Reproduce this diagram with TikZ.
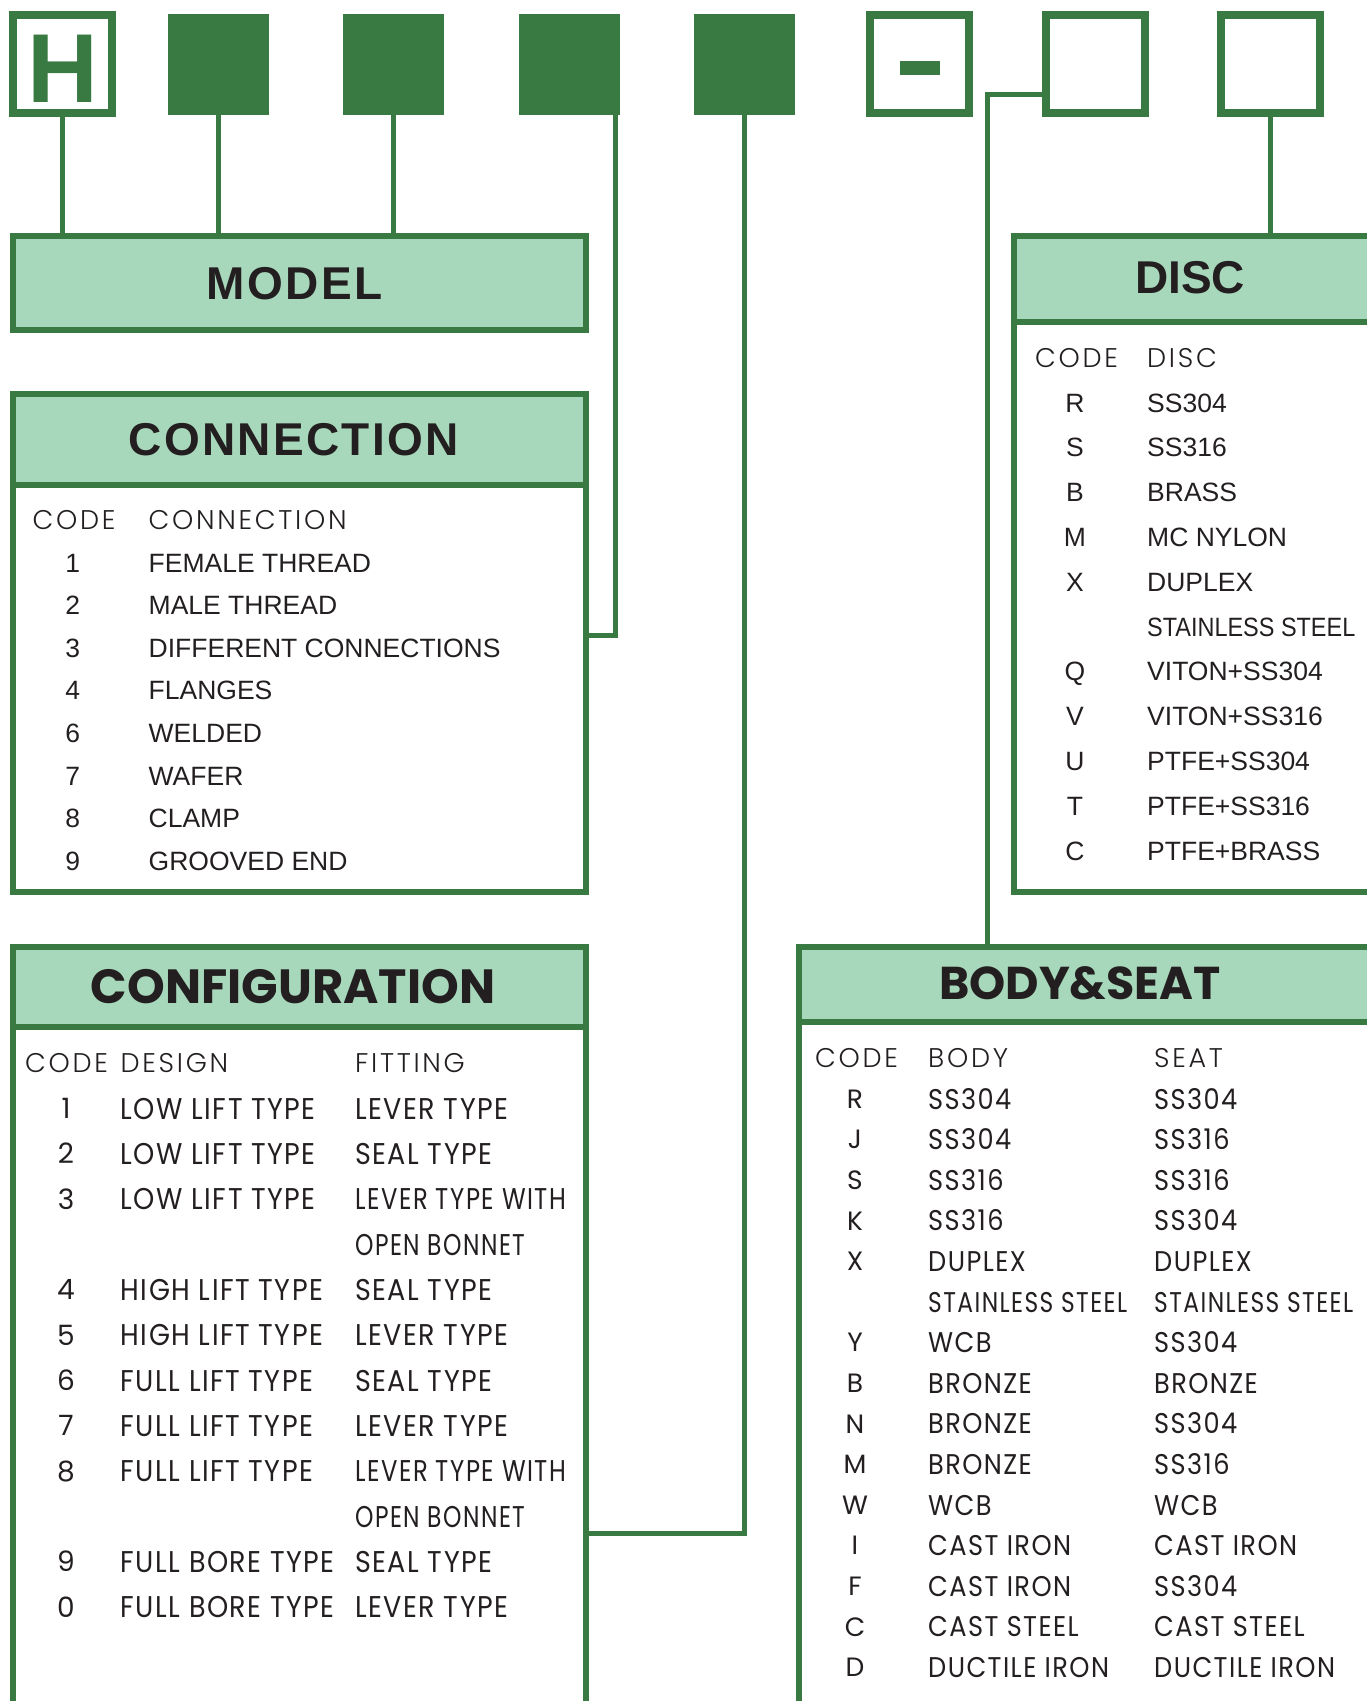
\documentclass[tikz,border=0pt]{standalone}
\usepackage{fontspec}
\setmainfont{Liberation Sans}
\newfontfamily\geo{Poppins}
\IfFontExistsTF{Poppins Light}{\newfontfamily\geohdr{Poppins Light}[LetterSpace=10]}{\newfontfamily\geohdr{Poppins}[LetterSpace=10]}
\newfontfamily\georow{Poppins}[FakeStretch=0.9, LetterSpace=5]
\newfontfamily\geonarrow{Poppins}[FakeStretch=0.78, LetterSpace=5]
\newfontfamily\geowith{Poppins}[FakeStretch=0.81, LetterSpace=5]
\newfontfamily\geostain{Poppins}[FakeStretch=0.82, LetterSpace=5]
\newfontfamily\titlesp{Liberation Sans}[LetterSpace=5]
\newfontfamily\arialcond{Liberation Sans}[FakeStretch=0.885]
\definecolor{vgreen}{RGB}{56,122,65}
\definecolor{vlight}{RGB}{168,216,187}
\definecolor{ink}{RGB}{35,31,32}
\tikzset{
  solidbox/.style={fill=vgreen, inner sep=0, minimum width=101pt, minimum height=101pt},
  hollowbox/.style={draw=vgreen, line width=8pt, fill=white, inner sep=0, minimum width=99pt, minimum height=98pt},
  wire/.style={draw=vgreen, line width=5pt},
  panelbody/.style={draw=vgreen, line width=6.5pt, fill=white, inner sep=0},
  panelhead/.style={draw=vgreen, line width=6.5pt, fill=vlight, inner sep=0},
  titleA/.style={font=\fontsize{46}{46}\selectfont\bfseries, text=ink, anchor=base, inner sep=0},
  titleAs/.style={font=\titlesp\fontsize{46}{46}\selectfont\bfseries, text=ink, anchor=base, inner sep=0},
  titleB/.style={font=\geo\fontsize{48}{48}\selectfont\bfseries, text=ink, anchor=base, inner sep=0},
  arow/.style={font=\fontsize{26.5}{30}\selectfont, text=ink, anchor=base west, inner sep=0, yshift=-9.5pt},
  arowc/.style={arow, anchor=base},
  hdr/.style={font=\geohdr\fontsize{27}{30}\selectfont, text=ink, anchor=base west, inner sep=0, yshift=-9.5pt},
  cfgrow/.style={font=\georow\fontsize{30}{32}\selectfont, text=ink, anchor=base west, inner sep=0, yshift=-10.5pt},
  cfgrowc/.style={font=\geo\fontsize{28}{30}\selectfont, text=ink, anchor=base, inner sep=0, yshift=-9.8pt},
  bsrow/.style={font=\georow\fontsize{28.5}{30}\selectfont, text=ink, anchor=base west, inner sep=0, yshift=-10pt},
  bsrowc/.style={font=\geo\fontsize{26.5}{30}\selectfont, text=ink, anchor=base, inner sep=0, yshift=-9.3pt},
}
\begin{document}
\begin{tikzpicture}[x=1pt,y=-1pt]
\useasboundingbox (0,0) rectangle (1367,1701);
\clip (0,0) rectangle (1367,1701);

% ---------- top code boxes ----------
\node[hollowbox] (hbox) at (62.5,64) {};
\node[font=\fontsize{98}{98}\selectfont\bfseries, text=vgreen, anchor=base, inner sep=0] (hletter) at (62.5,102) {H};
\node[solidbox] (b2) at (218.5,64.5) {};
\node[solidbox] (b3) at (393.5,64.5) {};
\node[solidbox] (b4) at (569.5,64.5) {};
\node[solidbox] (b5) at (744.5,64.5) {};
\node[hollowbox] (b6) at (919.5,64) {};
\node[fill=vgreen, inner sep=0, minimum width=40pt, minimum height=14pt] (dash) at (920,68) {};
\node[hollowbox] (b7) at (1095,64) {};
\node[hollowbox] (b8) at (1270,64) {};

% ---------- panels ----------
\node[panelhead, minimum width=573pt, minimum height=94pt] (model) at (299.5,283) {};
\node[titleAs] (modeltitle) at (294.5,299) {MODEL};

\node[panelbody, minimum width=573pt, minimum height=407pt] (connbody) at (299.5,688.5) {};
\node[panelhead, minimum width=573pt, minimum height=91pt] (connhead) at (299.5,439.5) {};
\node[titleAs] (conntitle) at (293.5,455) {CONNECTION};

\node[panelbody, minimum width=573pt, minimum height=753pt] (cfgbody) at (299.5,1403.5) {};
\node[panelhead, minimum width=573pt, minimum height=80pt] (cfghead) at (299.5,987) {};
\node[titleB] (cfgtitle) at (293,1003) {CONFIGURATION};

\node[panelbody, minimum width=406pt, minimum height=570pt] (discbody) at (1217,607) {};
\node[panelhead, minimum width=406pt, minimum height=86pt] (dischead) at (1217,279) {};
\node[titleA] (disctitle) at (1190,293.5) {DISC};

\node[panelbody, minimum width=621pt, minimum height=758pt] (bodybody) at (1109.5,1401) {};
\node[panelhead, minimum width=621pt, minimum height=75pt] (bodyhead) at (1109.5,984.5) {};
\node[titleB, font=\geo\fontsize{46}{46}\selectfont\bfseries] (bodytitle) at (1080,999.5) {BODY\&SEAT};

% ---------- connectors ----------
\draw[wire] (hbox.south) -- (hbox.south |- model.north);
\draw[wire] (b2.south) -- (b2.south |- model.north);
\draw[wire] (b3.south) -- (b3.south |- model.north);
\coordinate (c4) at (615,635);
\draw[wire] (b4.south -| c4) -- (c4) -- (c4 -| connbody.east);
\coordinate (c5) at (744.5,1533);
\draw[wire] (b5.south) -- (c5) -- (c5 -| cfgbody.east);
\coordinate (c7) at (987,94);
\draw[wire] (b7.west |- c7) -- (c7) -- (c7 |- bodyhead.north);
\draw[wire] (b8.south) -- (b8.south |- dischead.north);

% ---------- CONNECTION table ----------
\node[hdr] (connh1) at (32.5,520) {CODE};
\node[hdr] (connh2) at (148.5,520) {CONNECTION};
\foreach \c/\t [count=\i from 0] in {1/FEMALE THREAD, 2/MALE THREAD, 3/DIFFERENT CONNECTIONS, 4/FLANGES, 6/WELDED, 7/WAFER, 8/CLAMP, 9/GROOVED END}{
  \node[arowc] (conn-c\i) at (72.7,{562.5+42.6*\i}) {\c};
  \node[arow] (conn-t\i) at (148.5,{562.5+42.6*\i}) {\t};
}

% ---------- DISC table ----------
\node[hdr] (disch1) at (1035,358) {CODE};
\node[hdr] (disch2) at (1147,358) {DISC};
\foreach \c/\t [count=\i from 0] in {R/SS304, S/SS316, B/BRASS, M/MC NYLON, X/DUPLEX, {}/{\arialcond STAINLESS STEEL}, Q/VITON+SS304, V/VITON+SS316, U/PTFE+SS304, T/PTFE+SS316, C/PTFE+BRASS}{
  \node[arowc] (disc-c\i) at (1075,{402.5+44.8*\i}) {\c};
  \node[arow] (disc-t\i) at (1147,{402.5+44.8*\i}) {\t};
}

% ---------- CONFIGURATION table ----------
\node[hdr] (cfgh1) at (25,1063) {CODE};
\node[hdr] (cfgh2) at (120.5,1063) {DESIGN};
\node[hdr] (cfgh3) at (355,1063) {FITTING};
\foreach \c/\d/\f [count=\i from 0] in {1/LOW LIFT TYPE/LEVER TYPE, 2/LOW LIFT TYPE/SEAL TYPE, 3/LOW LIFT TYPE/{\geowith LEVER TYPE WITH}, {}/{}/{\geonarrow OPEN BONNET}, 4/HIGH LIFT TYPE/SEAL TYPE, 5/HIGH LIFT TYPE/LEVER TYPE, 6/FULL LIFT TYPE/SEAL TYPE, 7/FULL LIFT TYPE/LEVER TYPE, 8/FULL LIFT TYPE/{\geowith LEVER TYPE WITH}, {}/{}/{\geonarrow OPEN BONNET}, 9/FULL BORE TYPE/SEAL TYPE, 0/FULL BORE TYPE/LEVER TYPE}{
  \node[cfgrowc] (cfg-c\i) at (66,{1108.5+45.35*\i}) {\c};
  \node[cfgrow] (cfg-d\i) at (120.5,{1108.5+45.35*\i}) {\d};
  \node[cfgrow] (cfg-f\i) at (355,{1108.5+45.35*\i}) {\f};
}

% ---------- BODY&SEAT table ----------
\node[hdr] (bodyh1) at (815,1058) {CODE};
\node[hdr] (bodyh2) at (928,1058) {BODY};
\node[hdr] (bodyh3) at (1154,1058) {SEAT};
\foreach \c/\b/\s [count=\i from 0] in {R/SS304/SS304, J/SS304/SS316, S/SS316/SS316, K/SS316/SS304, X/DUPLEX/DUPLEX, {}/{\geostain STAINLESS STEEL}/{\geostain STAINLESS STEEL}, Y/WCB/SS304, B/BRONZE/BRONZE, N/BRONZE/SS304, M/BRONZE/SS316, W/WCB/WCB, I/CAST IRON/CAST IRON, F/CAST IRON/SS304, C/CAST STEEL/CAST STEEL, D/DUCTILE IRON/DUCTILE IRON}{
  \node[bsrowc] (body-c\i) at (855,{1099+40.6*\i}) {\c};
  \node[bsrow] (body-b\i) at (928,{1099+40.6*\i}) {\b};
  \node[bsrow] (body-s\i) at (1154,{1099+40.6*\i}) {\s};
}
\end{tikzpicture}
\end{document}
